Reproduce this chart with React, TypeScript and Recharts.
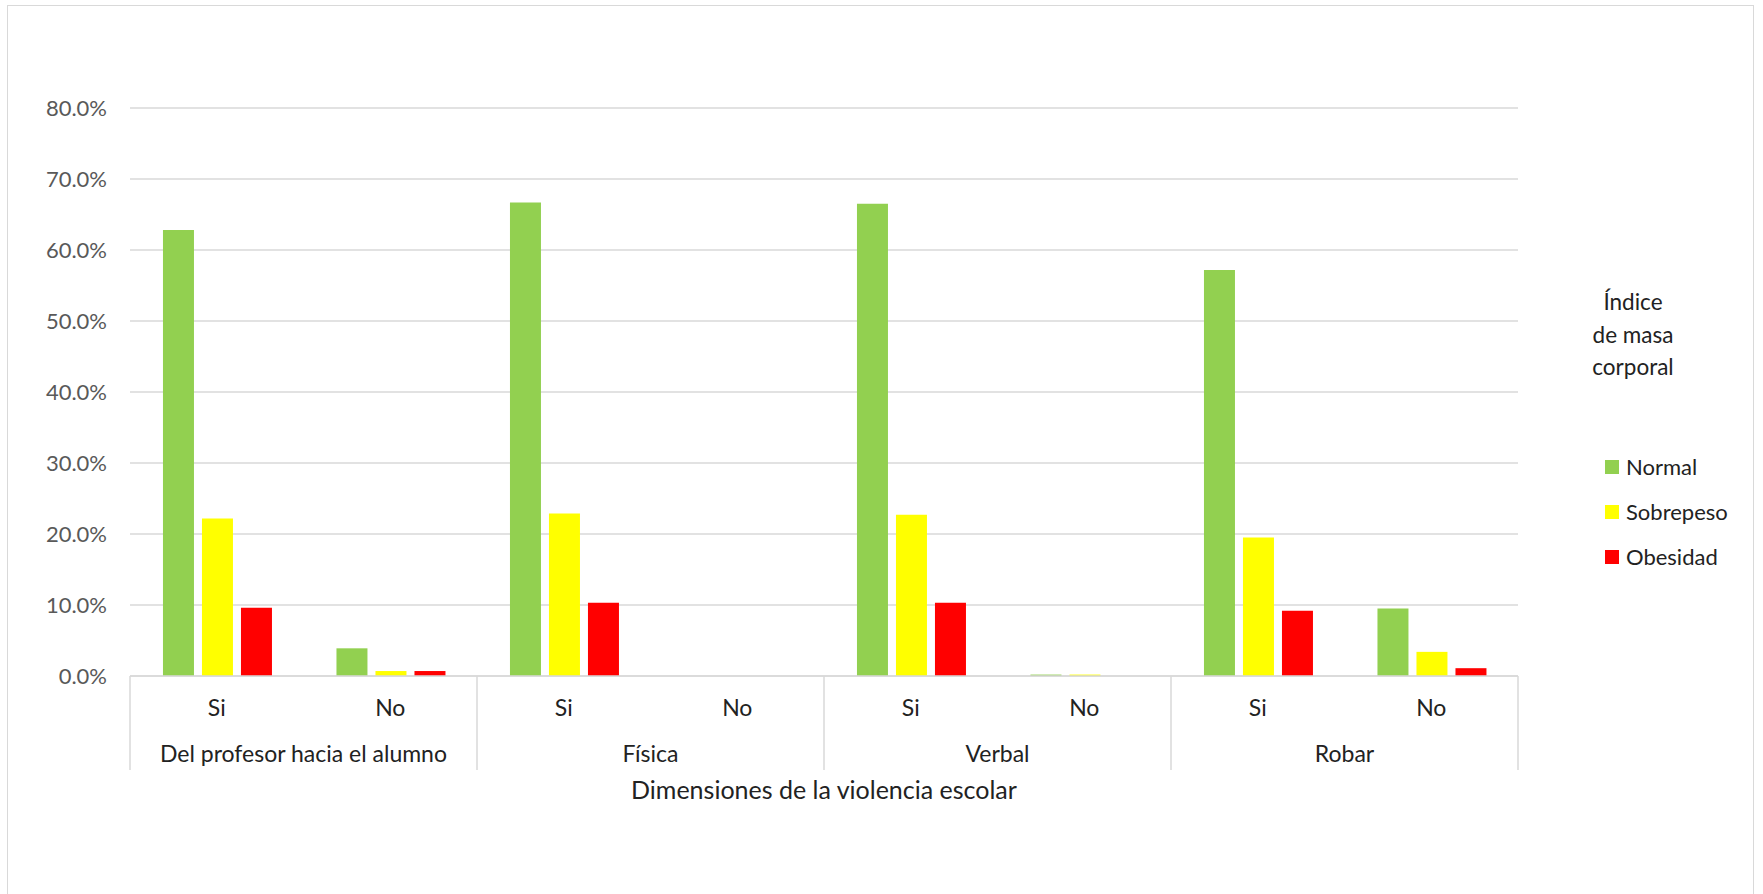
import { BarChart, Bar, XAxis, YAxis, CartesianGrid, Legend } from 'recharts';

// Dimensions of school violence, each split into Si / No answers
const dimensions = ['Del profesor hacia el alumno', 'Física', 'Verbal', 'Robar'];
const answers = ['Si', 'No'];

// Percentages per body-mass-index group, in dimension/answer order
const normal = [62.8, 3.9, 66.7, 0, 66.5, 0.2, 57.2, 9.5];
const sobrepeso = [22.2, 0.7, 22.9, 0, 22.7, 0.2, 19.5, 3.4];
const obesidad = [9.6, 0.7, 10.3, 0, 10.3, 0, 9.2, 1.1];

const yTicks = [0, 10, 20, 30, 40, 50, 60, 70, 80];

const series = [
  { key: 'normal', name: 'Normal', color: '#92D050' },
  { key: 'sobrepeso', name: 'Sobrepeso', color: '#FFFF00' },
  { key: 'obesidad', name: 'Obesidad', color: '#FF0000' },
];

const rows = dimensions.flatMap((dim, d) =>
  answers.map((ans, a) => {
    const i = d * answers.length + a;
    return {
      id: `${dim}-${ans}`,
      dim,
      ans,
      normal: normal[i],
      sobrepeso: sobrepeso[i],
      obesidad: obesidad[i],
    };
  })
);

const W = 1763;
const H = 894;
const PLOT_LEFT = 130;
const PLOT_RIGHT = 1518;
const PLOT_TOP = 108;
const PLOT_BOTTOM = 676;
const Y_AXIS_W = 80;
const X_AXIS_H = 94;
const BAND = (PLOT_RIGHT - PLOT_LEFT) / rows.length;

const FONT = 'Lato, "Open Sans", sans-serif';
const GRID = '#d9d9d9';
const TEXT = '#222';

// Two-level category axis: answer on the first row, dimension below,
// with separators between dimensions
function CategoryTick(props: any) {
  const { x, y, index } = props;
  const row = rows[index];
  if (!row) return null;
  const first = index % answers.length === 0;
  const last = index === rows.length - 1;
  const left = x - BAND / 2;
  return (
    <g>
      <text
        x={x}
        y={y + 31}
        textAnchor="middle"
        dominantBaseline="central"
        fontFamily={FONT}
        fontSize={23}
        fill={TEXT}
      >
        {row.ans}
      </text>
      {first && (
        <>
          <line x1={left} x2={left} y1={y} y2={y + X_AXIS_H} stroke={GRID} strokeWidth={1.5} />
          <text
            x={left + (BAND * answers.length) / 2}
            y={y + 77}
            textAnchor="middle"
            dominantBaseline="central"
            fontFamily={FONT}
            fontSize={23}
            fill={TEXT}
          >
            {row.dim}
          </text>
        </>
      )}
      {last && (
        <line
          x1={x + BAND / 2}
          x2={x + BAND / 2}
          y1={y}
          y2={y + X_AXIS_H}
          stroke={GRID}
          strokeWidth={1.5}
        />
      )}
    </g>
  );
}

function IndexLegend() {
  return (
    <div style={{ position: 'relative', width: 200, height: 320, fontFamily: FONT, color: TEXT }}>
      <div
        style={{
          position: 'absolute',
          left: 3,
          top: 6,
          width: 200,
          textAlign: 'center',
          fontSize: 22.5,
          lineHeight: '32.6px',
        }}
      >
        Índice
        <br />
        de masa
        <br />
        corporal
      </div>
      {series.map((s, i) => (
        <div
          key={s.key}
          style={{
            position: 'absolute',
            left: 75,
            top: 164 + i * 45,
            height: 45,
            display: 'flex',
            alignItems: 'center',
            fontSize: 22,
          }}
        >
          <span style={{ width: 14, height: 14, background: s.color, display: 'inline-block' }} />
          <span style={{ marginLeft: 7 }}>{s.name}</span>
        </div>
      ))}
    </div>
  );
}

export default function App() {
  return (
    <div
      style={{
        position: 'fixed',
        left: 0,
        top: 0,
        width: W,
        height: H,
        overflow: 'hidden',
        background: '#fff',
      }}
    >
      <div
        style={{
          position: 'absolute',
          left: 7,
          top: 5,
          width: W - 16,
          height: H + 20,
          borderTop: `1.5px solid ${GRID}`,
          borderLeft: `1.5px solid ${GRID}`,
          borderRight: `1.5px solid ${GRID}`,
          boxSizing: 'border-box',
        }}
      />
      <div style={{ position: 'absolute', left: 0, top: 0 }}>
        <BarChart
          width={W}
          height={H}
          data={rows}
          margin={{
            top: PLOT_TOP,
            right: W - PLOT_RIGHT,
            bottom: H - PLOT_BOTTOM - X_AXIS_H,
            left: PLOT_LEFT - Y_AXIS_W,
          }}
          barCategoryGap="19%"
          barGap={8}
        >
          <CartesianGrid vertical={false} stroke={GRID} strokeWidth={1.5} />
          <XAxis
            dataKey="id"
            interval={0}
            height={X_AXIS_H}
            tickSize={0}
            tickMargin={0}
            axisLine={{ stroke: GRID, strokeWidth: 1.5 }}
            tickLine={false}
            tick={<CategoryTick />}
            label={{
              value: 'Dimensiones de la violencia escolar',
              position: 'bottom',
              offset: 11,
              fill: TEXT,
              fontSize: 25,
              fontFamily: FONT,
            }}
          />
          <YAxis
            width={Y_AXIS_W}
            domain={[0, 80]}
            ticks={yTicks}
            interval={0}
            axisLine={false}
            tickLine={false}
            tickSize={0}
            tickMargin={23}
            tickFormatter={(v: number) => `${v.toFixed(1)}%`}
            tick={{ fill: '#595959', fontSize: 22, fontFamily: FONT }}
          />
          <Legend
            layout="horizontal"
            verticalAlign="middle"
            align="center"
            wrapperStyle={{ position: 'absolute', left: 1530, top: 280, width: 200 }}
            content={() => <IndexLegend />}
          />
          {series.map((s) => (
            <Bar key={s.key} dataKey={s.key} name={s.name} fill={s.color} isAnimationActive={false} />
          ))}
        </BarChart>
      </div>
    </div>
  );
}
